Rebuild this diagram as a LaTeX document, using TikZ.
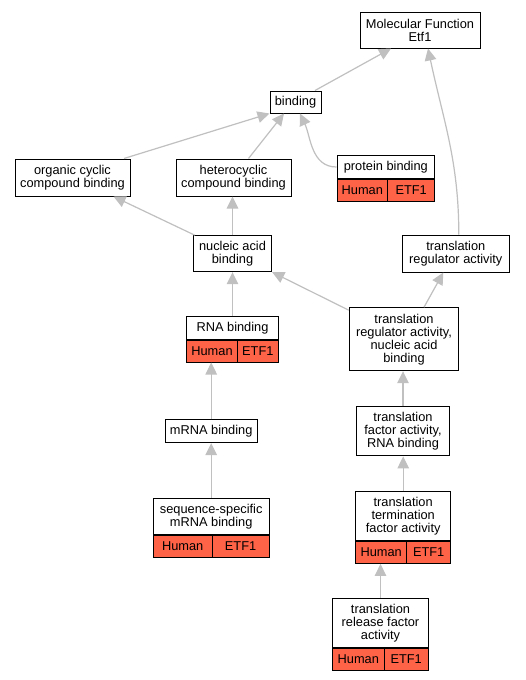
\documentclass[tikz,border=0pt]{standalone}
\usepackage{fontspec}
\setmainfont{Liberation Sans}
\usetikzlibrary{arrows.meta}
\definecolor{hitred}{HTML}{FF6347}
\definecolor{edgegray}{HTML}{C0C0C0}

\begin{document}
\begin{tikzpicture}[x=1pt, y=-1pt]

	\tikzstyle{goterm}=[draw, fill=white, line width=1pt, align=center, inner sep=0pt, font=\fontsize{12.8}{13}\selectfont]
	\tikzstyle{cell}=[draw, fill=hitred, line width=1pt, inner sep=0pt, minimum height=21.7pt, font=\fontsize{12.8}{13}\selectfont]
	\tikzstyle{isa}=[edgegray, line width=1.2pt, -{Triangle[length=12pt, width=11.5pt]}]

	\fill[white] (0,0) rectangle (525,680);
	\useasboundingbox (0,0) rectangle (525,680);

	\coordinate (mf) at (420, 30); % RAIZ
	\coordinate (bind) at (295.5, 102);
	\coordinate (prot) at (385.85, 167);
	\coordinate (oc) at (72.5, 177.5);
	\coordinate (hc) at (233.5, 177.5);
	\coordinate (na) at (232.5, 253.7);
	\coordinate (tra) at (455.8, 253.5);
	\coordinate (nab) at (404, 339.2);
	\coordinate (rna) at (232.5, 328);
	\coordinate (tfa) at (403, 431.3);
	\coordinate (mrna) at (211.2, 431.3);
	\coordinate (seq) at (211.2, 516.3);
	\coordinate (tterm) at (403.2, 516.2);
	\coordinate (rel) at (380.5, 623);

	\node[goterm, minimum width=120pt, minimum height=36pt] (mf) at (mf) {Molecular Function\\Etf1};
	\node[goterm, minimum width=51pt, minimum height=22pt] (bind) at (bind) {binding};
	\node[goterm, minimum width=115pt, minimum height=37pt] (oc) at (oc) {organic cyclic\\compound binding};
	\node[goterm, minimum width=115pt, minimum height=37pt] (hc) at (hc) {heterocyclic\\compound binding};
	\node[goterm, minimum width=78.4pt, minimum height=36pt] (na) at (na) {nucleic acid\\binding};
	\node[goterm, minimum width=107pt, minimum height=37pt] (tra) at (tra) {translation\\regulator activity};
	\node[goterm, minimum width=109.4pt, minimum height=63pt] (nab) at (nab) {translation\\regulator activity,\\nucleic acid\\binding};
	\node[goterm, minimum width=92.6pt, minimum height=49.3pt] (tfa) at (tfa) {translation\\factor activity,\\RNA binding};
	\node[goterm, minimum width=92.3pt, minimum height=22.7pt] (mrna) at (mrna) {mRNA binding};

	% CON ANOTACION
	\node[goterm, minimum width=97.7pt, minimum height=22.6pt] (prot) at (prot) {protein binding};
	\node[cell, anchor=north west, minimum width=50.7pt] (prot_h) at (prot.south west) {Human};
	\node[cell, anchor=north east, minimum width=47pt] (prot_e) at (prot.south east) {ETF1};

	\node[goterm, minimum width=91.6pt, minimum height=22.6pt] (rna) at (rna) {RNA binding};
	\node[cell, anchor=north west, minimum width=50.6pt] (rna_h) at (rna.south west) {Human};
	\node[cell, anchor=north east, minimum width=41pt] (rna_e) at (rna.south east) {ETF1};

	\node[goterm, minimum width=115.7pt, minimum height=36pt] (seq) at (seq) {sequence-specific\\mRNA binding};
	\node[cell, anchor=north west, minimum width=58.7pt] (seq_h) at (seq.south west) {Human};
	\node[cell, anchor=north east, minimum width=57pt] (seq_e) at (seq.south east) {ETF1};

	\node[goterm, minimum width=95pt, minimum height=49pt] (tterm) at (tterm) {translation\\termination\\factor activity};
	\node[cell, anchor=north west, minimum width=51pt] (tterm_h) at (tterm.south west) {Human};
	\node[cell, anchor=north east, minimum width=44pt] (tterm_e) at (tterm.south east) {ETF1};

	\node[goterm, minimum width=95.6pt, minimum height=49.4pt] (rel) at (rel) {translation\\release factor\\activity};
	\node[cell, anchor=north west, minimum width=51.3pt] (rel_h) at (rel.south west) {Human};
	\node[cell, anchor=north east, minimum width=44.3pt] (rel_e) at (rel.south east) {ETF1};

	%%%%%%%% ARISTAS %%%%%%%%
	\draw[isa] ([xshift=19.5pt]bind.north) -- ([xshift=-29pt]mf.south);
	\draw[isa] ([xshift=3pt]tra.north) to [out=90, in=-78] ([xshift=8pt]mf.south);
	\draw[isa] (prot.west) to [out=180, in=-65] ([xshift=4.5pt]bind.south);
	\draw[isa] ([xshift=51.5pt]oc.north) -- (bind.south west);
	\draw[isa] ([xshift=15pt]hc.north) -- ([xshift=-11.5pt]bind.south);
	\draw[isa] ([xshift=2pt]na.north west) -- ([xshift=41pt]oc.south);
	\draw[isa] (na.north) -- (na.north |- hc.south);
	\draw[isa] (rna.north) -- (rna.north |- na.south);
	\draw[isa] ([yshift=-3pt]nab.north west) -- (na.south east);
	\draw[isa] ([xshift=20pt]nab.north) -- ([xshift=-12.5pt]tra.south);
	\draw[isa] (mrna.north) -- (mrna.north |- rna_h.south);
	\draw[isa] (seq.north) -- (seq.north |- mrna.south);
	\draw[isa] (tfa.north) -- (tfa.north |- nab.south);
	\draw[isa] (tterm.north) -- (tterm.north |- tfa.south);
	\draw[isa] (rel.north) -- (rel.north |- tterm_h.south);

\end{tikzpicture}
\end{document}
